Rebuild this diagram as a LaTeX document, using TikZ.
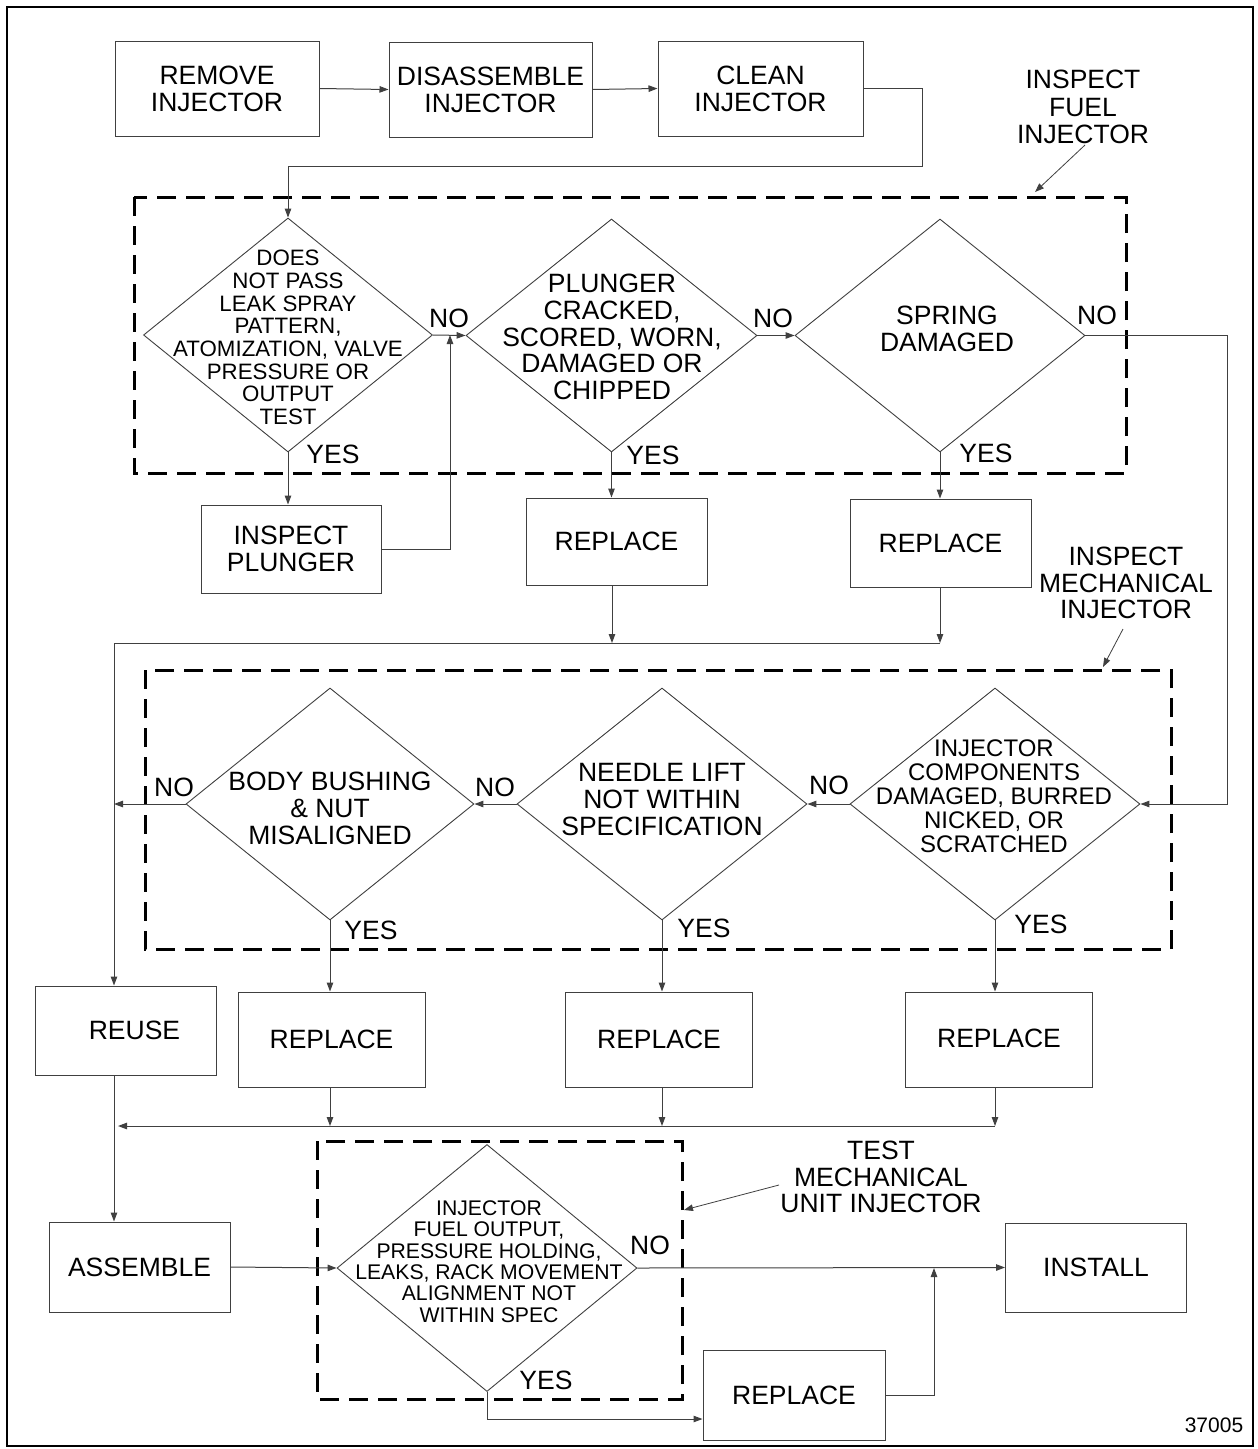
\documentclass[tikz,border=0pt]{standalone}
\usepackage{fontspec}
\setmainfont{Liberation Sans}
\usetikzlibrary{shapes.geometric,arrows.meta}
\newcommand\fsA{\fontsize{26.5}{26.8}\selectfont}
\newcommand\fsB{\fontsize{22.3}{22.7}\selectfont}
\newcommand\fsC{\fontsize{24}{24}\selectfont}
\newcommand\fsD{\fontsize{21.2}{21.4}\selectfont}
\newcommand\fsE{\fontsize{21}{22}\selectfont}
\begin{document}
\begin{tikzpicture}[x=1pt,y=-1pt,
  box/.style={draw=black!75, line width=1pt, rectangle, inner sep=0pt, align=center, font=\fsA},
  dia/.style={draw=black!75, line width=0.9pt, diamond, inner sep=0pt},
  txt/.style={align=center, inner sep=0pt, font=\fsA},
  lbl/.style={inner sep=0pt, font=\fsA},
  ln/.style={draw=black!75, line width=1pt},
  arr/.style={draw=black!75, line width=1pt, -{Triangle[length=9pt,width=6.5pt]}},
  dashbox/.style={draw=black, line width=3pt, dash pattern=on 19pt off 10pt}]
\useasboundingbox (0,0) rectangle (1258,1449);
\fill[white] (0,0) rectangle (1258,1449);
\draw[line width=2pt] (7,7) rectangle (1253,1446);

% dashed groups
\draw[dashbox] (134,197) rectangle (1126,473);
\draw[dashbox] (145,670) rectangle (1171,949);
\draw[dashbox] (317,1141) rectangle (682,1399);

% top row
\node[box, minimum width=204pt, minimum height=95pt] (rm) at (217,88.5) {REMOVE\\INJECTOR};
\node[box, minimum width=203pt, minimum height=95pt] (dis) at (490.5,89.5) {DISASSEMBLE\\INJECTOR};
\node[box, minimum width=205pt, minimum height=95pt] (cln) at (760.5,88.5) {CLEAN\\INJECTOR};

% fuel injector diamonds
\node[dia, minimum width=289pt, minimum height=234pt] (d1) at (288,335) {};
\node[txt, font=\fsB] (d1t) at (288,337.5) {DOES\\NOT PASS\\LEAK SPRAY\\PATTERN,\\ATOMIZATION, VALVE\\PRESSURE OR\\OUTPUT\\TEST};
\node[dia, minimum width=291pt, minimum height=233pt] (d2) at (611.5,335.5) {};
\node[txt] (d2t) at (612,337) {PLUNGER\\CRACKED,\\SCORED, WORN,\\DAMAGED OR\\CHIPPED};
\node[dia, minimum width=290pt, minimum height=233pt] (d3) at (940,335.5) {};
\node[txt] (d3t) at (947,329) {SPRING\\DAMAGED};

\node[box, minimum width=180pt, minimum height=88pt] (ip) at (291,549) {INSPECT\\PLUNGER};
\node[box, minimum width=181pt, minimum height=87pt] (rA) at (616.5,541.5) {REPLACE};
\node[box, minimum width=181pt, minimum height=88pt] (rB) at (940.5,543) {REPLACE};

% mechanical injector diamonds
\node[dia, minimum width=288pt, minimum height=232pt] (d4) at (330,804) {};
\node[txt] (d4t) at (330,808.5) {BODY BUSHING\\\& NUT\\MISALIGNED};
\node[dia, minimum width=290pt, minimum height=232pt] (d5) at (662,804) {};
\node[txt] (d5t) at (662,799.5) {NEEDLE LIFT\\NOT WITHIN\\SPECIFICATION};
\node[dia, minimum width=290pt, minimum height=232pt] (d6) at (995,804) {};
\node[txt, font=\fsC] (d6t) at (994,796) {INJECTOR\\COMPONENTS\\DAMAGED, BURRED\\NICKED, OR\\SCRATCHED};

\node[box, minimum width=181pt, minimum height=89pt] (reuse) at (125.5,1030.5) {\hspace*{18pt}REUSE};
\node[box, minimum width=187pt, minimum height=95pt] (rC) at (331.5,1039.5) {REPLACE};
\node[box, minimum width=187pt, minimum height=95pt] (rD) at (659,1039.5) {REPLACE};
\node[box, minimum width=187pt, minimum height=95pt] (rE) at (999,1039.5) {\raisebox{3pt}{REPLACE}};

% test
\node[box, minimum width=181pt, minimum height=90pt] (asm) at (139.5,1267) {ASSEMBLE};
\node[dia, minimum width=300pt, minimum height=247pt] (d7) at (487,1268) {};
\node[txt, font=\fsD] (d7t) at (489,1261.5) {INJECTOR\\FUEL OUTPUT,\\PRESSURE HOLDING,\\LEAKS, RACK MOVEMENT\\ALIGNMENT NOT\\WITHIN SPEC};
\node[box, minimum width=181pt, minimum height=89pt] (inst) at (1096,1267.5) {INSTALL};
\node[box, minimum width=182pt, minimum height=90pt] (rF) at (794,1395) {REPLACE};

% group labels
\node[txt, font=\fontsize{26.5}{27.5}\selectfont] (lab1) at (1083,107) {INSPECT\\FUEL\\INJECTOR};
\node[txt] (lab2) at (1126,583) {INSPECT\\MECHANICAL\\INJECTOR};
\node[txt] (lab3) at (881,1177) {TEST\\MECHANICAL\\UNIT INJECTOR};
\node[lbl, font=\fsE] (num) at (1214,1425) {37005};

% YES / NO labels
\node[lbl] (no1) at (449,318) {NO};
\node[lbl] (no2) at (773,318) {NO};
\node[lbl] (no3) at (1097,315) {NO};
\node[lbl] (yes1) at (333,454) {YES};
\node[lbl] (yes2) at (653,455) {YES};
\node[lbl] (yes3) at (986,453) {YES};
\node[lbl] (no4) at (829,785) {NO};
\node[lbl] (no5) at (495,787) {NO};
\node[lbl] (no6) at (174,787) {NO};
\node[lbl] (yes4) at (371,930) {YES};
\node[lbl] (yes5) at (704,928) {YES};
\node[lbl] (yes6) at (1041,924) {YES};
\node[lbl] (no7) at (650,1245) {NO};
\node[lbl] (yes7) at (546,1380) {YES};

% coordinates
\coordinate (c1) at (922,166);
\coordinate (j1) at (450,335);
\coordinate (c2) at (1227,804);
\coordinate (m1) at (114,643);
\coordinate (m2) at (612,643);
\coordinate (m3) at (940,643);
\coordinate (c3) at (114,804);
\coordinate (m4) at (330,1126);
\coordinate (m5) at (662,1126);
\coordinate (m6) at (995,1126);
\coordinate (m7) at (114,1126);
\coordinate (j2) at (934,1268);
\coordinate (a1s) at (1085,145);
\coordinate (a1e) at (1035,192);
\coordinate (a2s) at (1123,629);
\coordinate (a2e) at (1103,667);
\coordinate (a3s) at (779,1185);
\coordinate (a3e) at (684,1210);

% connectors
\draw[arr] (rm.east) -- (dis.west);
\draw[arr] (dis.east) -- (cln.west);
\draw[arr] (cln.east) -| (c1) -| (d1.north);
\draw[arr] (d1.east) -- (d2.west);
\draw[arr] (d1.south) -- (ip.north -| d1.south);
\draw[arr] (ip.east) -| (j1);
\draw[arr] (d2.east) -- (d3.west);
\draw[arr] (d3.east) -| (c2) -- (d6.east);
\draw[arr] (d2.south) -- (rA.north -| d2.south);
\draw[arr] (d3.south) -- (rB.north -| d3.south);
\draw[arr] (rA.south -| m2) -- (m2);
\draw[arr] (rB.south -| m3) -- (m3);
\draw[arr] (m3) -- (m1) -- (m1 |- reuse.north);
\draw[arr] (d6.west) -- (d5.east);
\draw[arr] (d5.west) -- (d4.east);
\draw[arr] (d4.west) -- (c3);
\draw[arr] (d4.south) -- (rC.north -| d4.south);
\draw[arr] (d5.south) -- (rD.north -| d5.south);
\draw[arr] (d6.south) -- (rE.north -| d6.south);
\draw[arr] (rC.south -| m4) -- (m4);
\draw[arr] (rD.south -| m5) -- (m5);
\draw[arr] (rE.south -| m6) -- (m6);
\draw[arr, shorten >=4pt] (m6) -- (m7);
\draw[arr] (m1 |- reuse.south) -- (m1 |- asm.north);
\draw[arr] (asm.east) -- (d7.west);
\draw[arr] (d7.east) -- (inst.west);
\draw[arr] (d7.south) |- ([yshift=-24pt]rF.west);
\draw[arr] (rF.east) -| (j2);

% annotation arrows
\draw[arr, line width=0.8pt] (a1s) -- (a1e);
\draw[arr, line width=0.8pt] (a2s) -- (a2e);
\draw[arr, line width=0.8pt] (a3s) -- (a3e);
\end{tikzpicture}
\end{document}
